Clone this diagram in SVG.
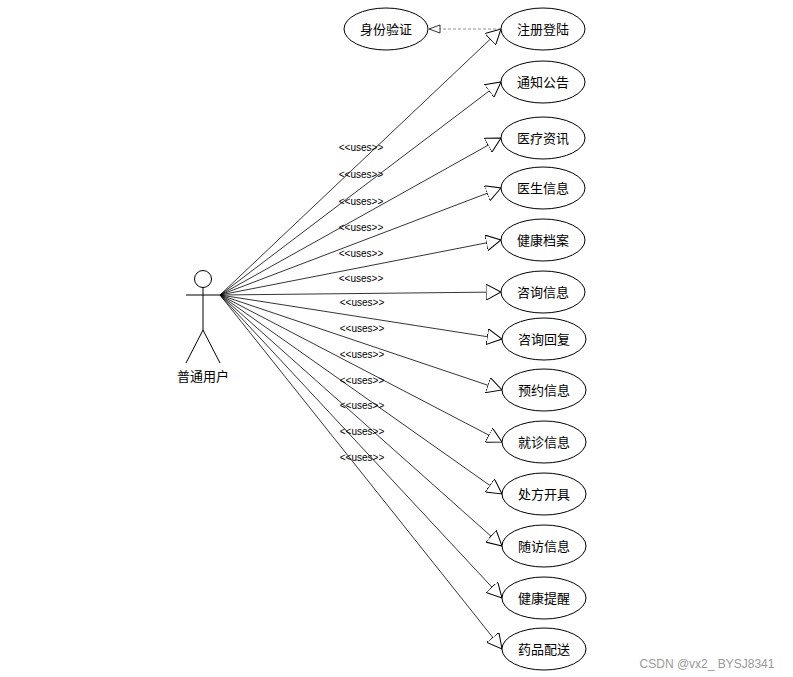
<svg xmlns="http://www.w3.org/2000/svg" width="793" height="677" viewBox="0 0 793 677">
<style>
.uc{fill:#fff;stroke:#000;stroke-width:1}
.t{font-family:"Noto Sans CJK SC","Liberation Sans",sans-serif;font-size:13px;text-anchor:middle;dominant-baseline:central}
.u{font-family:"Liberation Sans",sans-serif;font-size:10px;text-anchor:middle}
.c line{stroke:#000;stroke-width:0.8;marker-end:url(#tri)}
</style>
<defs>
<marker id="tri" markerWidth="16" markerHeight="16" refX="15" refY="8" orient="auto" markerUnits="userSpaceOnUse"><path d="M0,0 L15,8 L0,16 Z" fill="#fff" stroke="#000"/></marker>
</defs>
<rect width="793" height="677" fill="#fff"/>
<g id="actor" fill="none" stroke="#000">
<circle cx="203" cy="279" r="8.5"/>
<line x1="186" y1="295" x2="220" y2="295"/>
<line x1="203" y1="287" x2="203" y2="330"/>
<line x1="203" y1="330" x2="186" y2="363"/>
<line x1="203" y1="330" x2="220" y2="363"/>
<text x="203" y="375" class="t" fill="#000" stroke="none">普通用户</text>
</g>
<g class="c" id="connectors">
<line x1="220" y1="295" x2="501" y2="29"/>
<line x1="220" y1="295" x2="501" y2="82"/>
<line x1="220" y1="295" x2="501" y2="138"/>
<line x1="220" y1="295" x2="501" y2="188"/>
<line x1="220" y1="295" x2="501" y2="240"/>
<line x1="220" y1="295" x2="501" y2="292"/>
<line x1="220" y1="295" x2="502" y2="339"/>
<line x1="220" y1="295" x2="502" y2="390"/>
<line x1="220" y1="295" x2="502" y2="442"/>
<line x1="220" y1="295" x2="502" y2="494"/>
<line x1="220" y1="295" x2="502" y2="546"/>
<line x1="220" y1="295" x2="502" y2="598"/>
<line x1="220" y1="295" x2="502" y2="649"/>
<path d="M501,29 L432,29" fill="none" stroke="#777" stroke-width="0.8" stroke-dasharray="3,2"/>
<path d="M440,25 L429,29 L440,33 Z" fill="#fff" stroke="#000" stroke-width="0.8"/>
</g>
<g class="u">
<text x="361" y="151">&lt;&lt;uses&gt;&gt;</text>
<text x="361" y="178">&lt;&lt;uses&gt;&gt;</text>
<text x="361" y="205">&lt;&lt;uses&gt;&gt;</text>
<text x="361" y="231">&lt;&lt;uses&gt;&gt;</text>
<text x="361" y="257">&lt;&lt;uses&gt;&gt;</text>
<text x="361" y="282">&lt;&lt;uses&gt;&gt;</text>
<text x="362" y="306">&lt;&lt;uses&gt;&gt;</text>
<text x="362" y="332">&lt;&lt;uses&gt;&gt;</text>
<text x="362" y="358">&lt;&lt;uses&gt;&gt;</text>
<text x="362" y="384">&lt;&lt;uses&gt;&gt;</text>
<text x="362" y="409">&lt;&lt;uses&gt;&gt;</text>
<text x="362" y="435">&lt;&lt;uses&gt;&gt;</text>
<text x="362" y="461">&lt;&lt;uses&gt;&gt;</text>
</g>
<g id="uc0"><ellipse class="uc" cx="386" cy="29" rx="42" ry="21"/><text class="t" x="386" y="28">身份验证</text></g>
<g id="uc1"><ellipse class="uc" cx="543" cy="29" rx="42" ry="21"/><text class="t" x="543" y="28">注册登陆</text></g>
<g id="uc2"><ellipse class="uc" cx="543" cy="82" rx="42" ry="21"/><text class="t" x="543" y="81">通知公告</text></g>
<g id="uc3"><ellipse class="uc" cx="543" cy="138" rx="42" ry="21"/><text class="t" x="543" y="137">医疗资讯</text></g>
<g id="uc4"><ellipse class="uc" cx="543" cy="188" rx="42" ry="21"/><text class="t" x="543" y="187">医生信息</text></g>
<g id="uc5"><ellipse class="uc" cx="543" cy="240" rx="42" ry="21"/><text class="t" x="543" y="239">健康档案</text></g>
<g id="uc6"><ellipse class="uc" cx="543" cy="292" rx="42" ry="21"/><text class="t" x="543" y="291">咨询信息</text></g>
<g id="uc7"><ellipse class="uc" cx="544" cy="339" rx="42" ry="21"/><text class="t" x="544" y="338">咨询回复</text></g>
<g id="uc8"><ellipse class="uc" cx="544" cy="390" rx="42" ry="21"/><text class="t" x="544" y="389">预约信息</text></g>
<g id="uc9"><ellipse class="uc" cx="544" cy="442" rx="42" ry="21"/><text class="t" x="544" y="441">就诊信息</text></g>
<g id="uc10"><ellipse class="uc" cx="544" cy="494" rx="42" ry="21"/><text class="t" x="544" y="493">处方开具</text></g>
<g id="uc11"><ellipse class="uc" cx="544" cy="546" rx="42" ry="21"/><text class="t" x="544" y="545">随访信息</text></g>
<g id="uc12"><ellipse class="uc" cx="544" cy="598" rx="42" ry="21"/><text class="t" x="544" y="597">健康提醒</text></g>
<g id="uc13"><ellipse class="uc" cx="544" cy="649" rx="42" ry="21"/><text class="t" x="544" y="648">药品配送</text></g>
<text x="707" y="668" font-family="Liberation Sans,sans-serif" font-size="12" fill="#999" text-anchor="middle">CSDN @vx2_ BYSJ8341</text>
</svg>
